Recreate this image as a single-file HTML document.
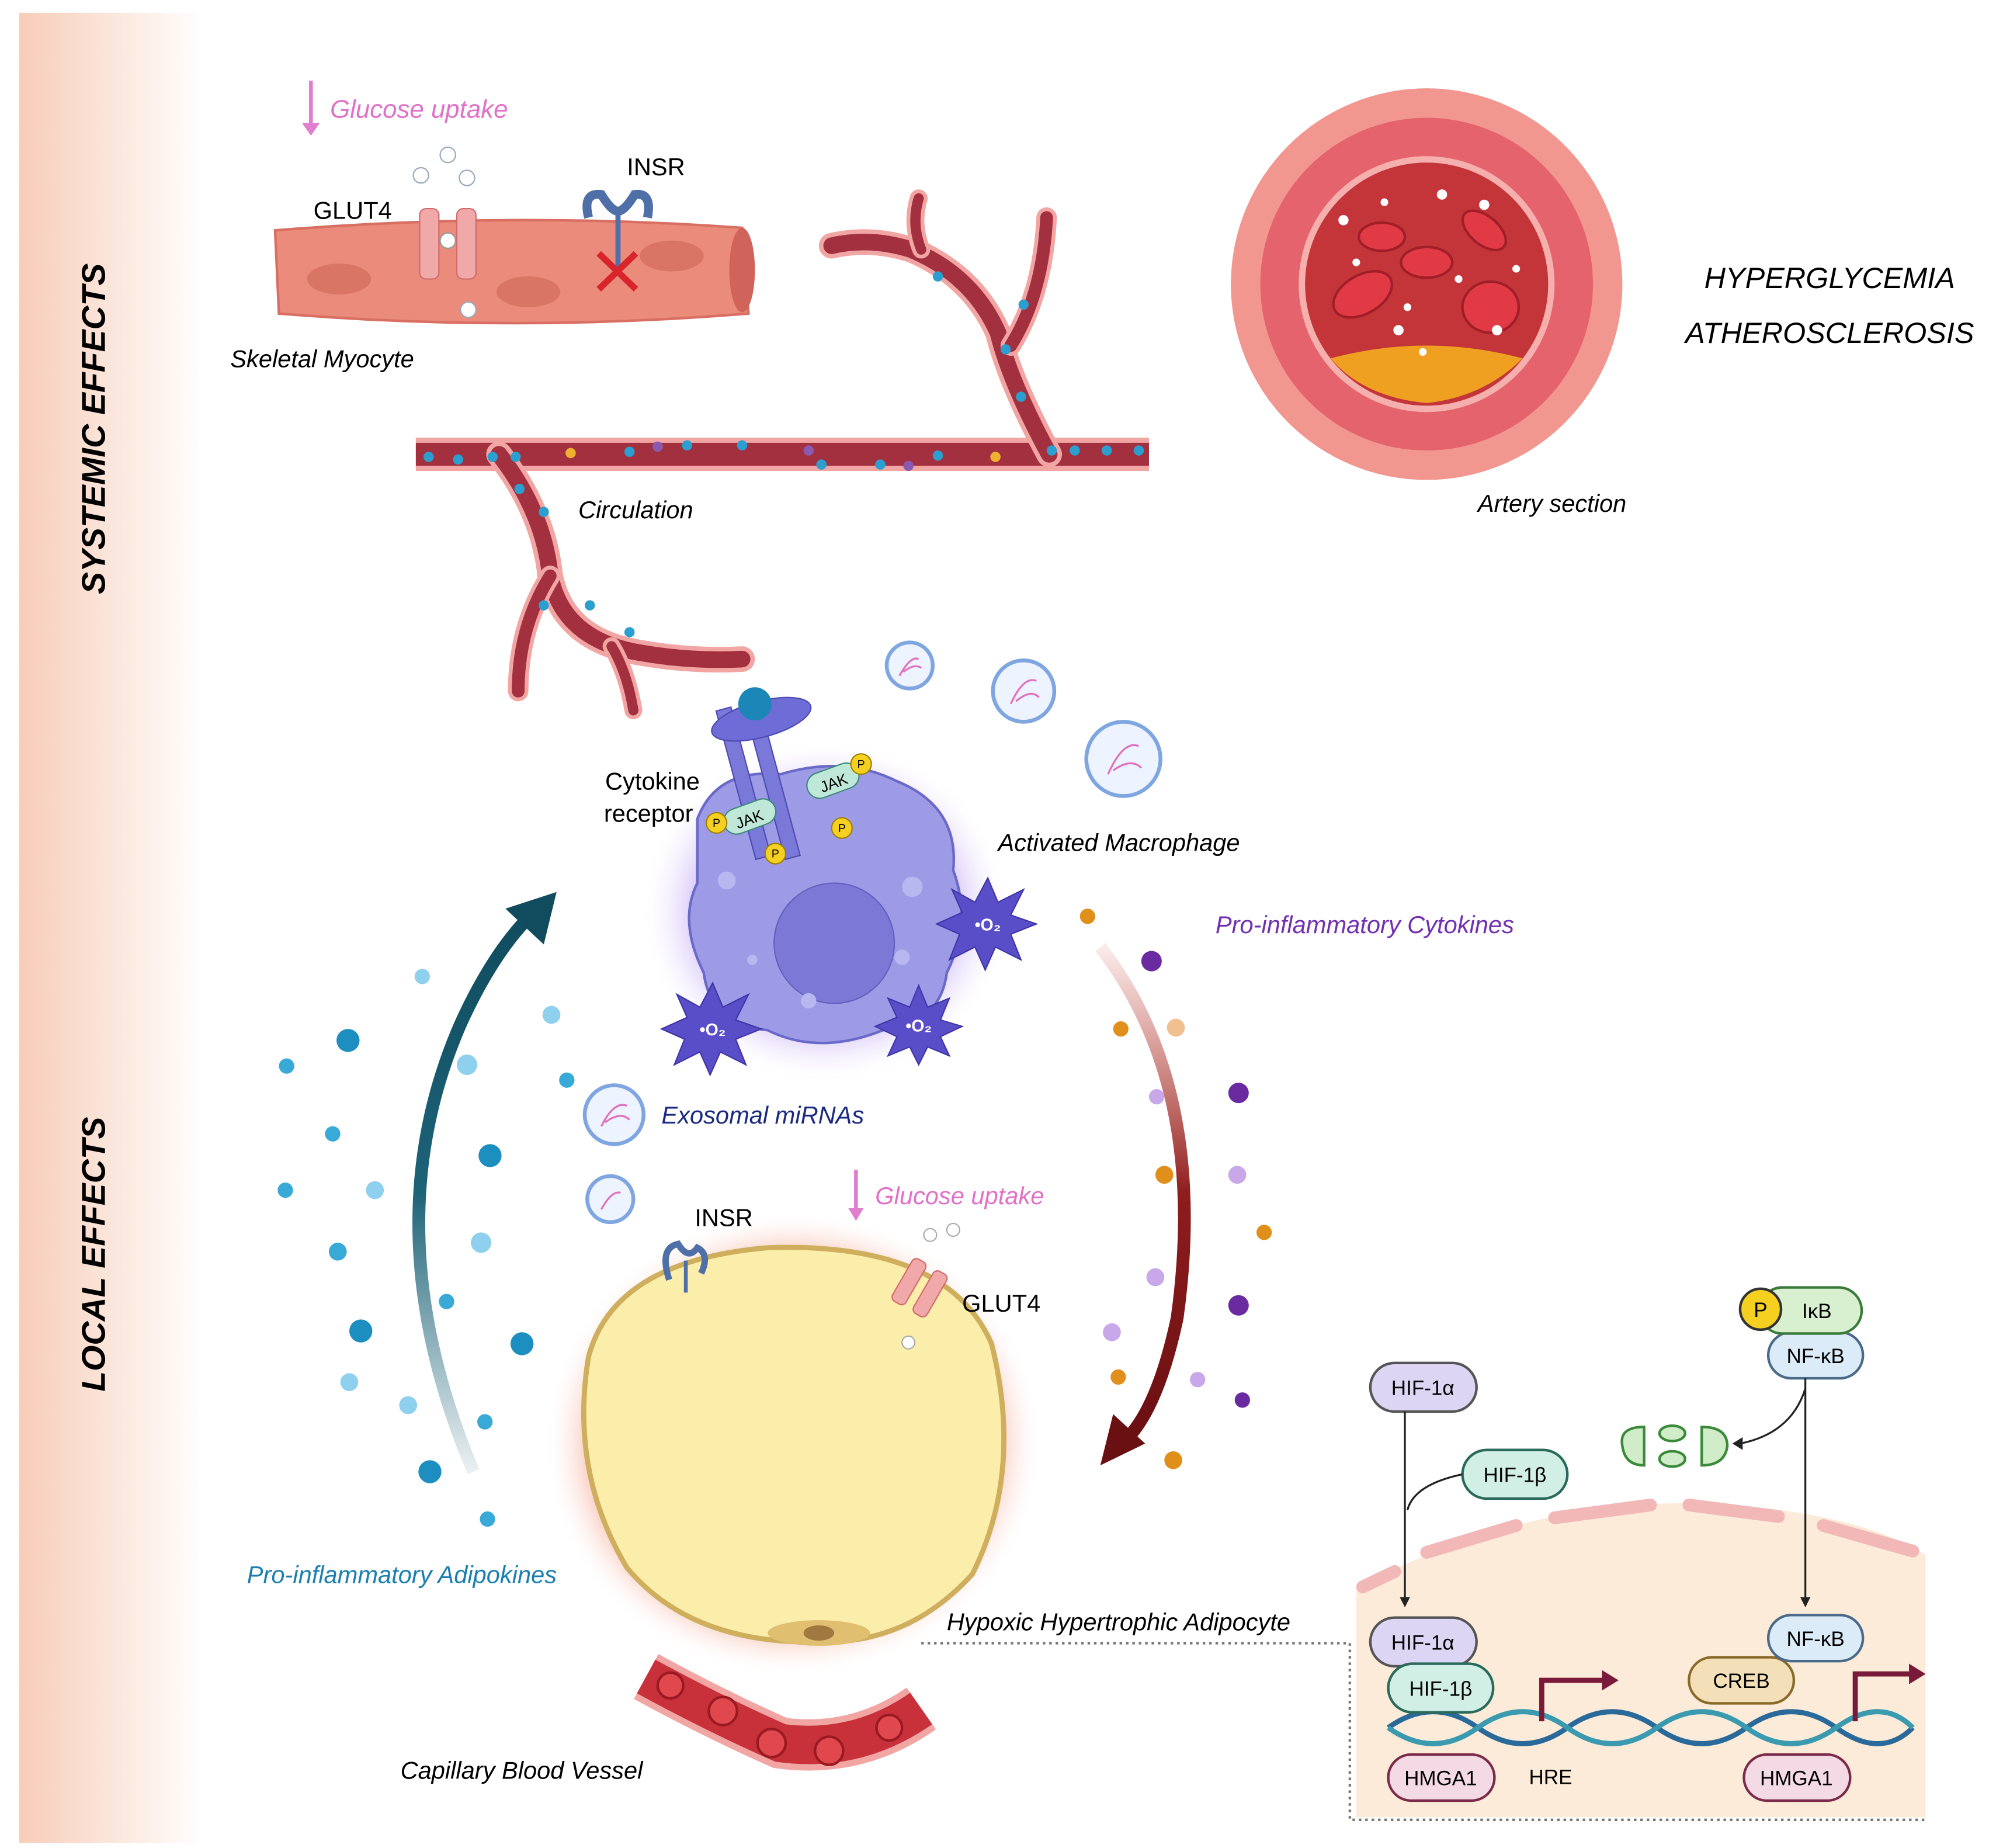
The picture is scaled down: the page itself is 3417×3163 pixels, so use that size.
<!DOCTYPE html>
<html><head><meta charset="utf-8"><style>
html,body{margin:0;padding:0;background:#fff}
svg{display:block}
text{font-family:"Liberation Sans",sans-serif}
.it{font-style:italic}
</style></head><body>
<svg width="3417" height="3163" viewBox="0 0 1560 1444" xmlns="http://www.w3.org/2000/svg">
<defs>
<linearGradient id="band" x1="0" x2="1" y1="0" y2="0"><stop offset="0" stop-color="#f7cdb8"/><stop offset="1" stop-color="#fff"/></linearGradient>
<radialGradient id="glowP"><stop offset="0.55" stop-color="#a57ef0" stop-opacity="0.95"/><stop offset="1" stop-color="#fff" stop-opacity="0"/></radialGradient>
<radialGradient id="glowO"><stop offset="0.72" stop-color="#f07a5a" stop-opacity="0.9"/><stop offset="1" stop-color="#fff" stop-opacity="0"/></radialGradient>
<linearGradient id="teal" x1="0" y1="1" x2="0" y2="0"><stop offset="0" stop-color="#2d6d80" stop-opacity="0.1"/><stop offset="0.5" stop-color="#1d6378"/><stop offset="1" stop-color="#114b5e"/></linearGradient>
<linearGradient id="red" x1="0" y1="0" x2="0" y2="1"><stop offset="0" stop-color="#c0392b" stop-opacity="0.1"/><stop offset="0.5" stop-color="#8e1d1d"/><stop offset="1" stop-color="#6a0f12"/></linearGradient>
</defs>
<rect x="15" y="10" width="145" height="1430" fill="url(#band)"/>
<text x="82" y="335" font-size="26" font-weight="bold" class="it" text-anchor="middle" transform="rotate(-90 82 335)">SYSTEMIC EFFECTS</text>
<text x="82" y="980" font-size="26" font-weight="bold" class="it" text-anchor="middle" transform="rotate(-90 82 980)">LOCAL EFFECTS</text>

<!-- Myocyte -->
<line x1="243" y1="63" x2="243" y2="103" stroke="#e07fd0" stroke-width="3"/>
<path d="M236 96 L243 106 L250 96" fill="#e07fd0"/>
<text x="258" y="92" font-size="20" class="it" fill="#e070c8">Glucose uptake</text>
<path d="M215 180 Q400 165 580 178 L585 245 Q400 260 218 245 Z" fill="#ea8b7b" stroke="#d86f62" stroke-width="2"/>
<ellipse cx="580" cy="211" rx="10" ry="33" fill="#d0635a"/>
<ellipse cx="265" cy="218" rx="25" ry="12" fill="#d87565"/>
<ellipse cx="413" cy="228" rx="25" ry="12" fill="#d87565"/>
<ellipse cx="525" cy="200" rx="25" ry="12" fill="#d87565"/>
<rect x="328" y="163" width="15" height="55" rx="5" fill="#f0a8a8" stroke="#d26b6b"/>
<rect x="357" y="163" width="15" height="55" rx="5" fill="#f0a8a8" stroke="#d26b6b"/>
<circle cx="350" cy="188" r="6" fill="#fff" stroke="#999"/>
<circle cx="329" cy="137" r="6" fill="#fff" stroke="#9ab"/><circle cx="350" cy="121" r="6" fill="#fff" stroke="#9ab"/><circle cx="365" cy="139" r="6" fill="#fff" stroke="#9ab"/>
<circle cx="366" cy="242" r="6" fill="#fff" stroke="#9ab"/>
<text x="245" y="171" font-size="19">GLUT4</text>
<text x="490" y="137" font-size="19">INSR</text>
<path d="M460 170 Q455 150 470 152 Q478 165 483 165 Q488 165 496 152 Q510 150 506 170" fill="none" stroke="#4f6fa8" stroke-width="7"/>
<line x1="483" y1="165" x2="483" y2="215" stroke="#4f6fa8" stroke-width="4"/>
<path d="M468 198 L497 226 M497 198 L468 226" stroke="#d9242b" stroke-width="5"/>
<text x="180" y="287" font-size="19" class="it">Skeletal Myocyte</text>

<!-- Vessels -->
<g fill="none" stroke-linecap="round">
<path d="M325 355 L898 355" stroke="#f2a6a4" stroke-width="26" stroke-linecap="butt"/>
<path d="M325 355 L898 355" stroke="#a3303f" stroke-width="18" stroke-linecap="butt"/>
<path d="M820 355 Q790 300 780 260 Q760 215 712 195 Q680 185 650 192" stroke="#f2a6a4" stroke-width="20"/>
<path d="M820 355 Q790 300 780 260 Q760 215 712 195 Q680 185 650 192" stroke="#a3303f" stroke-width="13"/>
<path d="M790 270 Q815 230 818 170" stroke="#f2a6a4" stroke-width="16"/>
<path d="M790 270 Q815 230 818 170" stroke="#a3303f" stroke-width="10"/>
<path d="M720 195 Q712 175 718 155" stroke="#f2a6a4" stroke-width="14"/>
<path d="M720 195 Q712 175 718 155" stroke="#a3303f" stroke-width="8"/>
<path d="M390 355 Q425 400 430 450 Q440 500 500 510 Q540 517 580 515" stroke="#f2a6a4" stroke-width="20"/>
<path d="M390 355 Q425 400 430 450 Q440 500 500 510 Q540 517 580 515" stroke="#a3303f" stroke-width="13"/>
<path d="M430 450 Q405 490 405 540" stroke="#f2a6a4" stroke-width="16"/>
<path d="M430 450 Q405 490 405 540" stroke="#a3303f" stroke-width="10"/>
<path d="M478 505 Q490 525 495 555" stroke="#f2a6a4" stroke-width="14"/>
<path d="M478 505 Q490 525 495 555" stroke="#a3303f" stroke-width="8"/>
</g>
<g fill="#2a9fd0">
<circle cx="335" cy="357" r="4"/><circle cx="358" cy="359" r="4"/><circle cx="385" cy="357" r="4"/><circle cx="403" cy="357" r="4"/><circle cx="492" cy="353" r="4"/><circle cx="537" cy="348" r="4"/><circle cx="580" cy="348" r="4"/><circle cx="642" cy="363" r="4"/><circle cx="688" cy="363" r="4"/><circle cx="733" cy="356" r="4"/><circle cx="822" cy="352" r="4"/><circle cx="840" cy="352" r="4"/><circle cx="865" cy="352" r="4"/><circle cx="890" cy="352" r="4"/><circle cx="798" cy="310" r="4"/><circle cx="786" cy="273" r="4"/><circle cx="800" cy="238" r="4"/><circle cx="733" cy="216" r="4"/><circle cx="406" cy="382" r="4"/><circle cx="425" cy="400" r="4"/><circle cx="425" cy="473" r="4"/><circle cx="461" cy="473" r="4"/><circle cx="492" cy="494" r="4"/>
</g>
<g fill="#f0b030"><circle cx="446" cy="354" r="4"/><circle cx="778" cy="357" r="4"/></g>
<g fill="#8a5ab0"><circle cx="514" cy="349" r="4"/><circle cx="632" cy="352" r="4"/><circle cx="710" cy="364" r="4"/></g>
<text x="452" y="405" font-size="19" class="it">Circulation</text>

<!-- Artery -->
<circle cx="1115" cy="222" r="153" fill="#f29690"/>
<circle cx="1115" cy="222" r="130" fill="#e4636c"/>
<circle cx="1115" cy="222" r="100" fill="#f5b0ae"/>
<circle cx="1115" cy="222" r="95" fill="#c4353a"/>
<path d="M1040 280 Q1115 260 1190 280 Q1160 310 1115 315 Q1065 310 1040 280 Z" fill="#f0a020"/>
<g fill="#e23a45" stroke="#a01e28" stroke-width="2">
<ellipse cx="1065" cy="230" rx="25" ry="15" transform="rotate(-30 1065 230)"/><ellipse cx="1165" cy="240" rx="22" ry="20"/><ellipse cx="1115" cy="205" rx="20" ry="12"/><ellipse cx="1160" cy="180" rx="20" ry="11" transform="rotate(40 1160 180)"/><ellipse cx="1080" cy="185" rx="18" ry="11"/></g>
<g fill="#fff"><circle cx="1050" cy="172" r="4"/><circle cx="1127" cy="152" r="4"/><circle cx="1160" cy="160" r="4"/><circle cx="1100" cy="240" r="3"/><circle cx="1140" cy="218" r="3"/><circle cx="1170" cy="258" r="4"/><circle cx="1093" cy="258" r="4"/><circle cx="1060" cy="205" r="3"/><circle cx="1112" cy="275" r="3"/><circle cx="1185" cy="210" r="3"/><circle cx="1082" cy="158" r="3"/></g>
<text x="1155" y="400" font-size="19" class="it">Artery section</text>
<text x="1430" y="225" font-size="23" class="it" text-anchor="middle">HYPERGLYCEMIA</text>
<text x="1430" y="268" font-size="23" class="it" text-anchor="middle">ATHEROSCLEROSIS</text>

<!-- Macrophage -->
<ellipse cx="645" cy="712" rx="145" ry="135" fill="url(#glowP)"/>
<path d="M545 640 Q560 600 610 605 Q660 590 700 610 Q750 630 745 680 Q760 720 740 760 Q735 800 690 805 Q640 825 600 805 Q555 800 550 760 Q530 720 545 690 Z" fill="#9d9be6" stroke="#6a68c8" stroke-width="2"/>
<circle cx="652" cy="737" r="47" fill="#7c79d6" stroke="#6360c0"/>
<g fill="#b8b7f0"><circle cx="568" cy="688" r="7"/><circle cx="713" cy="693" r="8"/><circle cx="632" cy="782" r="6"/><circle cx="705" cy="748" r="6"/><circle cx="588" cy="750" r="4"/></g>
<rect x="575" y="552" width="12" height="120" fill="#7a78d8" stroke="#4d4bb0" transform="rotate(-15 581 612)"/>
<rect x="598" y="552" width="12" height="120" fill="#7a78d8" stroke="#4d4bb0" transform="rotate(-15 604 612)"/>
<ellipse cx="595" cy="562" rx="40" ry="14" fill="#6e6cd6" stroke="#4d4bb0" transform="rotate(-15 595 562)"/>
<circle cx="590" cy="550" r="13" fill="#1c86b8"/>
<rect x="565" y="628" width="42" height="20" rx="10" fill="#bfe8d8" stroke="#3a8a7a" transform="rotate(-20 586 638)"/>
<rect x="630" y="600" width="42" height="20" rx="10" fill="#bfe8d8" stroke="#3a8a7a" transform="rotate(-20 651 610)"/>
<text x="574" y="644" font-size="12" transform="rotate(-20 586 638)">JAK</text>
<text x="640" y="616" font-size="12" transform="rotate(-20 651 610)">JAK</text>
<g fill="#f5d020" stroke="#a08000"><circle cx="560" cy="643" r="8"/><circle cx="673" cy="597" r="8"/><circle cx="606" cy="667" r="8"/><circle cx="658" cy="647" r="8"/></g>
<g font-size="9" text-anchor="middle"><text x="560" y="646">P</text><text x="673" y="600">P</text><text x="606" y="670">P</text><text x="658" y="650">P</text></g>
<text x="473" y="617" font-size="19">Cytokine</text><text x="472" y="642" font-size="19">receptor</text>
<text x="780" y="665" font-size="19" class="it">Activated Macrophage</text>
<g fill="#5a4ec8" stroke="#3e35a8">
<polygon points="772,686 780,705 800,695 790,715 810,722 790,730 798,750 778,740 770,758 762,740 742,750 750,730 732,722 752,713 744,695 762,705"/>
<polygon points="557,768 565,787 585,777 575,797 595,804 575,812 583,832 563,822 555,840 547,822 527,832 535,812 517,804 537,795 529,777 547,787"/>
<polygon points="718,770 725,787 742,780 735,797 752,802 735,810 742,825 725,818 718,832 711,818 694,825 701,810 684,802 701,795 694,780 711,787"/>
</g>
<g fill="#fff" font-size="13" font-weight="bold" text-anchor="middle"><text x="772" y="727">•O₂</text><text x="557" y="809">•O₂</text><text x="718" y="806">•O₂</text></g>

<!-- exosomes -->
<g fill="#eef4ff" stroke="#7fa6e0" stroke-width="3">
<circle cx="711" cy="520" r="18"/><circle cx="800" cy="540" r="24"/><circle cx="878" cy="593" r="29"/><circle cx="480" cy="871" r="23"/><circle cx="477" cy="937" r="18"/></g>
<g fill="none" stroke="#e070c0" stroke-width="1.5">
<path d="M703 528 Q712 512 718 515 M706 525 Q715 518 720 522"/><path d="M790 550 Q800 528 810 532 M794 548 Q806 538 812 545"/><path d="M866 605 Q878 578 890 583 M870 602 Q884 592 892 600"/><path d="M470 880 Q480 860 490 864 M473 877 Q485 868 492 875"/><path d="M470 945 Q478 930 485 932"/></g>
<text x="517" y="878" font-size="19" class="it" fill="#1a2a80">Exosomal miRNAs</text>

<!-- Arrows -->
<path d="M370 1150 Q290 960 360 800 Q385 745 415 715" fill="none" stroke="url(#teal)" stroke-width="10"/>
<polygon points="435,697 395,710 425,738" fill="#114b5e"/>
<path d="M860 740 Q945 850 920 1030 Q905 1100 880 1125" fill="none" stroke="url(#red)" stroke-width="10"/>
<polygon points="860,1145 870,1105 895,1128" fill="#6a0f12"/>

<!-- adipokine dots -->
<g fill="#1c8fc0"><circle cx="272" cy="813" r="9"/><circle cx="383" cy="903" r="9"/><circle cx="282" cy="1040" r="9"/><circle cx="408" cy="1050" r="9"/><circle cx="336" cy="1150" r="9"/></g>
<g fill="#39a9d8"><circle cx="224" cy="833" r="6"/><circle cx="260" cy="886" r="6"/><circle cx="223" cy="930" r="6"/><circle cx="264" cy="978" r="7"/><circle cx="349" cy="1017" r="6"/><circle cx="379" cy="1111" r="6"/><circle cx="381" cy="1187" r="6"/><circle cx="443" cy="844" r="6"/></g>
<g fill="#8fd0ee"><circle cx="330" cy="763" r="6"/><circle cx="431" cy="793" r="7"/><circle cx="365" cy="832" r="8"/><circle cx="293" cy="930" r="7"/><circle cx="376" cy="971" r="8"/><circle cx="273" cy="1080" r="7"/><circle cx="319" cy="1098" r="7"/></g>
<text x="193" y="1237" font-size="19" class="it" fill="#1a7fb0">Pro-inflammatory Adipokines</text>

<!-- cytokine dots -->
<g fill="#e0901a"><circle cx="850" cy="716" r="6"/><circle cx="876" cy="804" r="6"/><circle cx="910" cy="918" r="7"/><circle cx="988" cy="963" r="6"/><circle cx="874" cy="1076" r="6"/><circle cx="917" cy="1141" r="7"/></g>
<g fill="#f0c090"><circle cx="919" cy="803" r="7"/></g>
<g fill="#6a2aa0"><circle cx="900" cy="751" r="8"/><circle cx="968" cy="854" r="8"/><circle cx="968" cy="1020" r="8"/><circle cx="971" cy="1094" r="6"/></g>
<g fill="#c8a8e8"><circle cx="904" cy="857" r="6"/><circle cx="967" cy="918" r="7"/><circle cx="903" cy="998" r="7"/><circle cx="869" cy="1041" r="7"/><circle cx="936" cy="1078" r="6"/></g>
<text x="950" y="729" font-size="19" class="it" fill="#7030b0">Pro-inflammatory Cytokines</text>

<!-- Adipocyte -->
<ellipse cx="620" cy="1128" rx="195" ry="182" fill="url(#glowO)"/>
<path d="M460 1060 Q480 985 600 975 Q740 970 775 1050 Q800 1150 760 1230 Q710 1285 640 1283 Q540 1285 490 1225 Q445 1150 460 1060 Z" fill="#fbeeaa" stroke="#cfae5e" stroke-width="4"/>
<ellipse cx="640" cy="1276" rx="40" ry="10" fill="#e0c070"/><ellipse cx="640" cy="1276" rx="12" ry="6" fill="#a07840"/>
<path d="M523 1000 Q515 975 530 972 Q538 985 545 975 Q555 980 548 995" fill="none" stroke="#4f6fa8" stroke-width="5"/>
<line x1="536" y1="985" x2="536" y2="1010" stroke="#4f6fa8" stroke-width="3"/>
<text x="543" y="958" font-size="19">INSR</text>
<line x1="669" y1="914" x2="669" y2="950" stroke="#e07fd0" stroke-width="3"/><path d="M663 944 L669 954 L675 944" fill="#e07fd0"/>
<text x="684" y="941" font-size="19" class="it" fill="#e070c8">Glucose uptake</text>
<rect x="703" y="988" width="12" height="38" rx="4" fill="#f0a8a8" stroke="#d26b6b" transform="rotate(30 720 1007)"/>
<rect x="722" y="988" width="12" height="38" rx="4" fill="#f0a8a8" stroke="#d26b6b" transform="rotate(30 720 1007)"/>
<circle cx="727" cy="965" r="5" fill="#fff" stroke="#aaa"/><circle cx="745" cy="961" r="5" fill="#fff" stroke="#aaa"/><circle cx="710" cy="1049" r="5" fill="#fff" stroke="#aaa"/>
<text x="752" y="1025" font-size="19">GLUT4</text>
<text x="740" y="1274" font-size="19" class="it">Hypoxic Hypertrophic Adipocyte</text>
<path d="M720 1284 L1055 1284 L1055 1422 L1505 1422" fill="none" stroke="#777" stroke-width="2" stroke-dasharray="2,3"/>

<!-- capillary -->
<path d="M505 1310 Q560 1340 610 1362 Q670 1370 720 1335" fill="none" stroke="#f2a6a4" stroke-width="40"/>
<path d="M505 1310 Q560 1340 610 1362 Q670 1370 720 1335" fill="none" stroke="#c8303a" stroke-width="30"/>
<g fill="#e0484e" stroke="#9a1a22" stroke-width="2"><circle cx="524" cy="1317" r="10"/><circle cx="565" cy="1337" r="11"/><circle cx="603" cy="1362" r="11"/><circle cx="648" cy="1368" r="11"/><circle cx="695" cy="1350" r="10"/></g>
<text x="313" y="1390" font-size="19" class="it">Capillary Blood Vessel</text>

<!-- Nucleus panel -->
<path d="M1060 1240 Q1200 1170 1330 1175 Q1450 1180 1505 1215 L1505 1420 L1060 1420 Z" fill="#fcebd8"/>
<g stroke="#f2b8b8" stroke-width="10" stroke-linecap="round" fill="none">
<path d="M1065 1240 L1090 1228"/><path d="M1115 1213 L1185 1192"/><path d="M1215 1186 L1290 1176"/><path d="M1320 1176 L1390 1185"/><path d="M1425 1192 L1495 1212"/></g>
<g fill="none" stroke-width="4">
<path d="M1085 1350 Q1120 1325 1155 1350 T1225 1350 T1295 1350 T1365 1350 T1435 1350 T1495 1350" stroke="#2a6a9a"/>
<path d="M1085 1350 Q1120 1375 1155 1350 T1225 1350 T1295 1350 T1365 1350 T1435 1350 T1495 1350" stroke="#3a9ab0"/></g>
<path d="M1205 1345 L1205 1313 L1255 1313" fill="none" stroke="#7a1a3a" stroke-width="4"/><polygon points="1252,1305 1265,1313 1252,1321" fill="#7a1a3a"/>
<path d="M1450 1345 L1450 1308 L1495 1308" fill="none" stroke="#7a1a3a" stroke-width="4"/><polygon points="1492,1300 1505,1308 1492,1316" fill="#7a1a3a"/>
<g stroke-width="2" font-size="16">
<rect x="1071" y="1065" width="83" height="38" rx="19" fill="#dcd6f4" stroke="#555"/><text x="1112" y="1090" text-anchor="middle">HIF-1α</text>
<rect x="1143" y="1133" width="82" height="38" rx="19" fill="#d2efe6" stroke="#2a6a5a"/><text x="1184" y="1158" text-anchor="middle">HIF-1β</text>
<rect x="1071" y="1264" width="83" height="38" rx="19" fill="#dcd6f4" stroke="#555"/><text x="1112" y="1289" text-anchor="middle">HIF-1α</text>
<rect x="1085" y="1300" width="82" height="38" rx="19" fill="#d2efe6" stroke="#2a6a5a"/><text x="1126" y="1325" text-anchor="middle">HIF-1β</text>
<rect x="1085" y="1371" width="83" height="36" rx="18" fill="#f4dae4" stroke="#7a2a4a"/><text x="1126" y="1395" text-anchor="middle">HMGA1</text>
<rect x="1363" y="1371" width="83" height="36" rx="18" fill="#f4dae4" stroke="#7a2a4a"/><text x="1404" y="1395" text-anchor="middle">HMGA1</text>
<rect x="1320" y="1295" width="82" height="36" rx="18" fill="#f3dfb8" stroke="#8a6a2a"/><text x="1361" y="1319" text-anchor="middle">CREB</text>
<rect x="1382" y="1262" width="74" height="36" rx="18" fill="#dcebf8" stroke="#4a6a8a"/><text x="1419" y="1286" text-anchor="middle">NF-κB</text>
<rect x="1382" y="1041" width="74" height="36" rx="18" fill="#dcebf8" stroke="#4a6a8a"/><text x="1419" y="1065" text-anchor="middle">NF-κB</text>
<rect x="1375" y="1006" width="80" height="36" rx="18" fill="#d8f0d0" stroke="#3a7a3a"/><text x="1420" y="1030" text-anchor="middle">IκB</text>
<circle cx="1376" cy="1023" r="16" fill="#f5d020" stroke="#333"/><text x="1376" y="1029" text-anchor="middle">P</text>
</g>
<text x="1195" y="1394" font-size="16">HRE</text>
<g fill="#d0ecc8" stroke="#3a8a3a" stroke-width="2">
<path d="M1285 1115 Q1265 1115 1268 1130 Q1270 1145 1285 1145 Z"/><ellipse cx="1307" cy="1120" rx="10" ry="6"/><ellipse cx="1307" cy="1140" rx="10" ry="6"/><path d="M1330 1115 Q1350 1115 1350 1130 Q1348 1145 1330 1145 Z"/></g>
<g stroke="#222" stroke-width="1.5" fill="none">
<path d="M1098 1103 L1098 1250"/><path d="M1143 1152 Q1105 1160 1100 1180"/><path d="M1411 1077 L1411 1250"/><path d="M1411 1085 Q1400 1120 1360 1128"/></g>
<g fill="#222"><polygon points="1094,1248 1102,1248 1098,1256"/><polygon points="1407,1248 1415,1248 1411,1256"/><polygon points="1362,1123 1362,1133 1354,1128"/></g>
</svg>
</body></html>
